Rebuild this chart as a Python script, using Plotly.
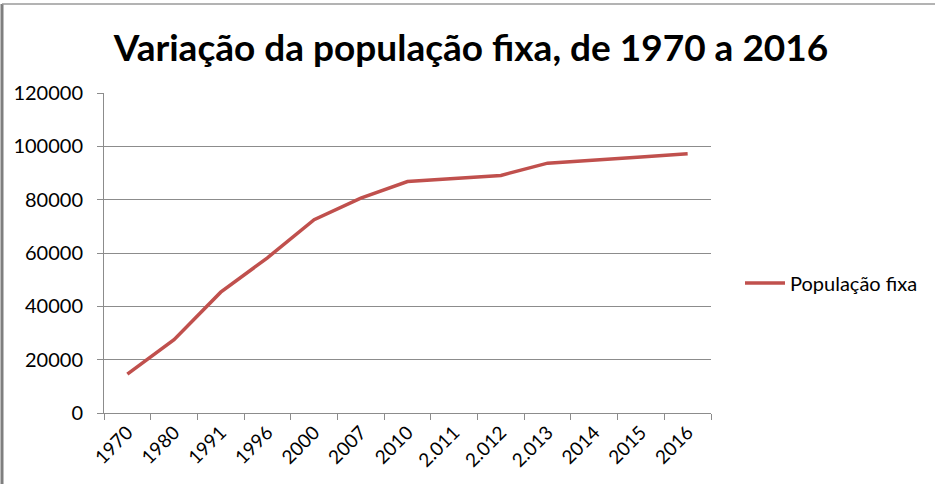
import plotly.graph_objects as go

# Fixed population by year
anos = ["1970", "1980", "1991", "1996", "2000", "2007", "2010",
        "2.011", "2.012", "2.013", "2014", "2015", "2016"]
populacao_fixa = [14600, 27500, 45300, 58200, 72500, 80600, 86800,
                  88000, 89100, 93700, 95000, 96000, 97200]
y_ticks = [0, 20000, 40000, 60000, 80000, 100000, 120000]

FONT = "Lato"
GRID = "#8c8c8c"

fig = go.Figure()
fig.add_trace(go.Scatter(
    x=anos, y=populacao_fixa, mode="lines", name="População fixa",
    line=dict(color="#C0504D", width=3.5),
))

W, H = 935, 484
L, R, T, B = 104, 224, 93, 71
pw, ph = W - L - R, H - T - B

fig.update_layout(
    width=W, height=H,
    margin=dict(l=L, r=R, t=T, b=B),
    paper_bgcolor="white", plot_bgcolor="white",
    title=dict(text="<b>Variação da população fixa, de 1970 a 2016</b>",
               x=(471 - L) / pw, xanchor="center", xref="paper",
               y=1 - 48 / H, yanchor="middle",
               font=dict(family=FONT, size=37, color="black")),
    showlegend=True,
    legend=dict(x=(740 - L) / pw, y=(T + ph - 283) / ph, xanchor="left", yanchor="middle",
                font=dict(family=FONT, size=20, color="black"),
                bgcolor="rgba(0,0,0,0)", itemwidth=40),
    xaxis=dict(type="category", tickangle=-45, tickson="boundaries",
               ticks="outside", ticklen=6, tickcolor=GRID,
               showline=True, linecolor=GRID, linewidth=1,
               showgrid=False, range=[-0.5, len(anos) - 0.5],
               tickfont=dict(family=FONT, size=19, color="black")),
    yaxis=dict(range=[0, 120000], tickvals=y_ticks,
               ticktext=[str(v) for v in y_ticks],
               ticks="outside", ticklen=6, tickcolor=GRID,
               ticklabelstandoff=10,
               showline=True, linecolor=GRID, linewidth=1,
               showgrid=True, gridcolor=GRID, gridwidth=1, zeroline=False,
               tickfont=dict(family=FONT, size=20, color="black")),
    shapes=[
        # chart frame edges
        dict(type="line", xref="paper", yref="paper",
             x0=(2 - L) / pw, x1=(2 - L) / pw, y0=(T + ph - 4) / ph, y1=(T + ph - H) / ph,
             line=dict(color="#7f7f7f", width=3)),
        dict(type="line", xref="paper", yref="paper",
             x0=(2 - L) / pw, x1=(W - L) / pw, y0=(T + ph - 4) / ph, y1=(T + ph - 4) / ph,
             line=dict(color="#9a9a9a", width=1.5)),
    ],
)

fig.write_html("out.html")
